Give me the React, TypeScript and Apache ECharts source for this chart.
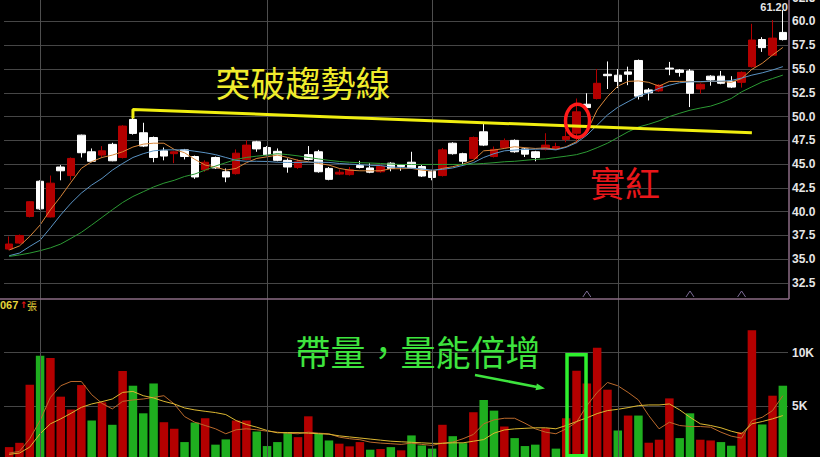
import React, { useEffect, useRef } from 'react';
import * as echarts from 'echarts';

// [open, close, low, high]
const candles: number[][] = [
  [36.07, 36.6, 35.95, 37.4], [36.7, 37.5, 36.6, 37.6], [39.5, 41.05, 39.4, 41.1], [43.2, 40.3, 40.2, 43.3],
  [39.45, 43.0, 39.4, 43.8], [44.7, 44.3, 43.3, 44.9], [43.8, 45.6, 43.3, 45.7], [48.05, 46.2, 45.7, 48.1],
  [46.3, 45.3, 45.2, 46.65], [45.95, 46.4, 45.75, 46.9], [47.08, 45.35, 45.3, 47.25], [45.7, 49.0, 45.6, 49.1],
  [49.7, 48.23, 48.1, 50.75], [48.3, 46.9, 46.8, 49.35], [47.8, 45.7, 45.2, 47.9], [46.4, 45.85, 45.4, 46.75],
  [46.1, 46.3, 45.1, 46.4], [46.5, 45.8, 45.5, 46.6], [45.8, 43.65, 43.45, 45.9], [44.4, 45.2, 44.2, 45.4],
  [45.7, 44.6, 44.5, 45.8], [44.2, 43.65, 43.1, 44.55], [44.0, 46.15, 43.9, 46.55], [45.5, 47.0, 45.4, 47.5],
  [47.35, 46.6, 46.3, 47.45], [46.75, 46.0, 45.9, 46.9], [46.35, 45.4, 45.3, 46.65], [45.4, 44.7, 44.1, 45.6],
  [44.65, 45.25, 44.5, 45.5], [46.0, 45.5, 45.4, 46.9], [46.3, 44.2, 44.1, 46.5], [44.55, 43.4, 43.3, 44.7],
  [43.95, 44.15, 43.85, 44.45], [43.9, 44.4, 43.8, 44.7], [44.85, 44.65, 44.55, 45.35], [44.6, 44.15, 44.05, 45.1],
  [44.2, 44.75, 44.1, 44.85], [45.1, 44.55, 44.25, 45.2], [44.9, 44.75, 44.3, 45.0], [45.2, 44.6, 44.5, 46.3],
  [44.75, 43.75, 43.65, 44.9], [44.25, 43.6, 43.3, 44.4], [43.8, 46.5, 43.7, 46.7], [47.2, 46.1, 46.0, 47.3],
  [46.1, 45.3, 44.9, 46.2], [45.6, 47.8, 45.5, 47.9], [48.4, 47.0, 46.9, 49.35], [45.8, 46.55, 45.7, 46.85],
  [46.75, 47.45, 46.65, 47.7], [47.5, 46.3, 46.2, 47.6], [46.6, 46.05, 45.75, 46.7], [46.3, 45.7, 45.3, 46.4],
  [46.55, 47.0, 46.45, 48.25], [46.6, 46.85, 46.5, 47.25], [47.6, 47.9, 47.3, 48.6], [48.25, 50.5, 47.2, 51.9],
  [51.3, 50.95, 50.7, 52.45], [51.9, 53.5, 51.8, 55.0], [54.45, 54.3, 52.9, 55.8], [54.35, 53.7, 53.0, 55.0],
  [54.7, 54.45, 53.3, 55.25], [55.9, 52.15, 51.8, 56.0], [52.8, 52.5, 51.7, 53.0], [52.7, 53.3, 52.6, 53.4],
  [55.1, 55.0, 54.35, 55.75], [54.9, 54.65, 54.2, 55.0], [54.8, 52.45, 51.0, 55.0], [52.9, 53.4, 52.4, 53.5],
  [54.25, 53.85, 53.25, 54.35], [54.25, 53.5, 53.4, 54.8], [53.7, 53.1, 53.0, 54.25], [53.6, 54.65, 53.05, 54.75],
  [55.25, 58.05, 55.15, 59.75], [58.1, 57.25, 56.8, 58.35], [56.45, 58.25, 56.35, 60.15], [58.85, 58.1, 58.0, 61.2],
];

const maFast = [
  35.97, 36.4, 37.4, 38.6, 40.2, 41.6, 43.1, 44.56, 45.26, 45.7, 45.95, 46.3, 46.8, 47.1, 47.2, 47.2,
  46.55, 46.2, 45.5, 44.9, 44.7, 44.37, 44.55, 45.15, 45.6, 45.77, 45.95, 45.7, 45.4, 45.25, 45.07, 44.9,
  44.55, 44.37, 44.3, 44.3, 44.3, 44.52, 44.52, 44.55, 44.37, 44.27, 44.55, 44.73, 45.0, 45.4, 46.4, 46.48,
  46.65, 46.83, 46.73, 46.65, 46.7, 46.56, 46.83, 47.36, 48.4, 50.7, 52.1, 53.2, 53.7, 53.75, 53.6, 53.2,
  53.7, 53.7, 53.7, 53.65, 53.7, 53.7, 53.6, 54.0, 54.97, 55.6, 56.47, 57.27,
];
const maMid = [
  35.37, 35.65, 36.35, 37.0, 38.3, 39.67, 40.9, 41.96, 42.8, 43.5, 44.37, 45.07, 45.7, 46.1, 46.4, 46.5,
  46.5, 46.5, 46.36, 46.2, 46.0, 45.7, 45.4, 45.3, 45.3, 45.28, 45.2, 45.18, 45.18, 45.2, 45.2, 45.18,
  45.07, 45.0, 44.95, 44.87, 44.85, 44.7, 44.65, 44.57, 44.5, 44.37, 44.45, 44.6, 44.87, 45.15, 45.7, 46.1,
  46.4, 46.48, 46.55, 46.57, 46.6, 46.5, 46.77, 47.25, 48.05, 49.1, 50.17, 50.98, 51.57, 52.15, 52.5, 52.97,
  53.3, 53.56, 53.65, 53.68, 53.72, 53.72, 53.8, 54.05, 54.36, 54.6, 54.9, 55.25,
];
const maSlow = [
  35.3, 35.45, 35.65, 35.9, 36.2, 36.6, 37.2, 37.83, 38.6, 39.4, 40.2, 40.97, 41.6, 42.1, 42.6, 43.0,
  43.3, 43.7, 43.96, 44.37, 44.8, 45.15, 45.5, 45.7, 45.84, 45.95, 46.1, 46.0, 45.87, 45.7, 45.55, 45.4,
  45.28, 45.2, 45.15, 45.12, 45.07, 45.0, 44.97, 44.97, 44.97, 44.97, 44.97, 44.97, 44.97, 45.0, 45.07, 45.15,
  45.25, 45.3, 45.4, 45.5, 45.55, 45.7, 45.84, 46.0, 46.3, 46.73, 47.2, 47.8, 48.4, 48.9, 49.2, 49.55,
  50.0, 50.35, 50.67, 50.9, 51.1, 51.46, 51.9, 52.6, 53.13, 53.65, 54.0, 54.36,
];

const volumes = [
  1200, 1600, 7000, 9720, 9510, 5900, 4700, 6980, 3680, 5370, 3280, 8300, 6920, 4350, 7130, 3520,
  2910, 1670, 3490, 3890, 1430, 1920, 3680, 3680, 2660, 1300, 1670, 2590, 2130, 4070, 2450, 1820,
  1520, 1270, 1670, 960, 1020, 1200, 900, 2290, 1360, 1060, 3280, 2220, 1570, 4450, 5590, 4600,
  3120, 2040, 1300, 1430, 2960, 1060, 3890, 8310, 7130, 10460, 6550, 2750, 4140, 4140, 1610, 1890,
  5740, 2040, 4350, 1890, 1820, 1670, 1330, 2590, 12080, 3310, 5990, 6920,
];
const volMaFast = [
  648, 806, 1982, 3676, 5834, 6917, 7315, 7315, 6084, 5278, 4760, 5463, 5593, 5686, 5834, 5991,
  5223, 4047, 3519, 3213, 2908, 2445, 2815, 2908, 2815, 2685, 2593, 2500, 2445, 2593, 2500, 2445,
  2130, 1982, 1889, 1667, 1574, 1519, 1454, 1574, 1454, 1361, 1574, 1667, 1982, 2380, 3371, 3741,
  3889, 3889, 3426, 2908, 2593, 2445, 2908, 3519, 5065, 6297, 7223, 6917, 6297, 5593, 4139, 2908,
  3519, 3213, 3121, 3121, 3056, 2593, 2222, 2037, 3676, 3982, 4602, 5991,
];
const volMaSlow = [
  528, 648, 1204, 2445, 3371, 3834, 4352, 4908, 5223, 5436, 5686, 6297, 6389, 5991, 5778, 5463,
  5223, 4852, 4667, 4537, 4417, 4232, 3676, 3306, 3056, 2750, 2537, 2550, 2550, 2500, 2450, 2400,
  2250, 2150, 2050, 1950, 1850, 1750, 1700, 1650, 1600, 1550, 1550, 1600, 1600, 1750, 1900, 2500,
  2800, 2900, 2950, 3000, 3000, 2908, 3213, 3584, 3926, 4324, 4602, 4723, 4880, 5065, 5130, 5130,
  5223, 4667, 3982, 3371, 3213, 3000, 2685, 2445, 3371, 3584, 3834, 4139,
];

const monthStarts = [3, 25, 41, 59];
const trendLine = [[12, 49.8], [12, 50.75], [72, 48.3]];
const markerDays = [56, 66, 71];
const breakoutDay = 55;
const breakoutMid = 49.55;
const breakoutVolTop = 9800;
const breakoutVolBottom = 400;
const lastHighLabel = '61.20';

const RED = '#b40000';
const GREEN_VOL = '#1fae1f';

export default function App() {
  const ref = useRef<HTMLDivElement>(null);
  useEffect(() => {
    const chart = echarts.init(ref.current!, null, { renderer: 'svg' });
    const cats = candles.map((_, i) => String(i));
    const closes = candles.map((c) => c[1]);
    const volData = volumes.map((v, i) => ({
      value: v,
      itemStyle: { color: i === 0 || closes[i] >= closes[i - 1] ? RED : GREEN_VOL },
    }));
    const vLines = {
      silent: true,
      symbol: ['none', 'none'],
      label: { show: false },
      lineStyle: { color: '#4e4e4e', type: 'solid', width: 1 },
      data: monthStarts.map((i) => ({ xAxis: cats[i] })),
    };
    const lineStyleOf = (color: string, width = 1) => ({
      type: 'line',
      symbol: 'none',
      lineStyle: { color, width },
      itemStyle: { color },
      silent: true,
    });
    chart.setOption({
      animation: false,
      backgroundColor: '#000000',
      grid: [
        { left: 4, width: 784, top: -2.3, height: 309.1, outerBoundsMode: 'none', containLabel: false },
        { left: 4, width: 784, top: 299, height: 161, outerBoundsMode: 'none', containLabel: false },
      ],
      xAxis: [0, 1].map((g) => ({
        type: 'category',
        gridIndex: g,
        data: cats,
        boundaryGap: true,
        axisLine: { show: false },
        axisTick: { show: false },
        axisLabel: { show: false },
        splitLine: { show: false },
      })),
      yAxis: [
        {
          type: 'value',
          gridIndex: 0,
          position: 'right',
          min: 30,
          max: 62.5,
          interval: 2.5,
          axisLine: { show: false },
          axisTick: { show: false },
          axisLabel: {
            color: '#e6e6e6',
            fontSize: 12,
            fontWeight: 'bold',
            fontFamily: 'Liberation Sans',
            margin: 4,
            showMinLabel: false,
            formatter: (v: number) => v.toFixed(1),
          },
          splitLine: { show: true, showMinLine: false, lineStyle: { color: '#464646', width: 1 } },
        },
        {
          type: 'value',
          gridIndex: 1,
          position: 'right',
          min: 0,
          max: 15000,
          interval: 5000,
          axisLine: { show: false },
          axisTick: { show: false },
          axisLabel: {
            color: '#e6e6e6',
            fontSize: 12,
            fontWeight: 'bold',
            fontFamily: 'Liberation Sans',
            margin: 4,
            showMinLabel: false,
            showMaxLabel: false,
            formatter: (v: number) => (v === 0 || v === 15000 ? '' : v / 1000 + 'K'),
          },
          splitLine: { show: true, showMaxLine: false, showMinLine: false, lineStyle: { color: '#464646', width: 1 } },
        },
      ],
      series: [
        {
          type: 'candlestick',
          xAxisIndex: 0,
          yAxisIndex: 0,
          data: candles,
          barWidth: 8,
          silent: true,
          itemStyle: {
            color: RED,
            color0: '#ffffff',
            borderColor: RED,
            borderColor0: '#ffffff',
            borderWidth: 1,
          },
          markLine: vLines,
          z: 2,
        },
        { ...lineStyleOf('#d8863a'), xAxisIndex: 0, yAxisIndex: 0, data: maFast, z: 3 },
        { ...lineStyleOf('#5a93c4'), xAxisIndex: 0, yAxisIndex: 0, data: maMid, z: 3 },
        { ...lineStyleOf('#2c9a34'), xAxisIndex: 0, yAxisIndex: 0, data: maSlow, z: 3 },
        { ...lineStyleOf('#f0ee10', 3), xAxisIndex: 0, yAxisIndex: 0, data: trendLine, z: 5 },
        {
          type: 'bar',
          xAxisIndex: 1,
          yAxisIndex: 1,
          data: volData,
          barWidth: 8.5,
          silent: true,
          markLine: vLines,
          z: 2,
        },
        { ...lineStyleOf('#bb6a2c'), xAxisIndex: 1, yAxisIndex: 1, data: volMaFast, z: 3 },
        { ...lineStyleOf('#dcb832'), xAxisIndex: 1, yAxisIndex: 1, data: volMaSlow, z: 3 },
      ],
    });

    const p0 = (x: number, y: number) => chart.convertToPixel({ gridIndex: 0 }, [x, y]) as number[];
    const p1 = (x: number, y: number) => chart.convertToPixel({ gridIndex: 1 }, [x, y]) as number[];
    const bo = p0(breakoutDay, breakoutMid);
    const vt = p1(breakoutDay, breakoutVolTop);
    const vb = p1(breakoutDay, breakoutVolBottom);
    const last = candles[candles.length - 1];
    const hi = p0(candles.length - 1, last[3]);
    const cjk = '"Noto Sans CJK TC", "Noto Sans CJK SC", sans-serif';

    const tip = [545, 388.5];
    const graphics: any[] = [
      { type: 'line', shape: { x1: 0, y1: 299, x2: 789, y2: 299 }, style: { stroke: '#8c6c86', lineWidth: 1.5 }, z: 10 },
      { type: 'line', shape: { x1: 789, y1: 0, x2: 789, y2: 299 }, style: { stroke: '#8c6c86', lineWidth: 1.5 }, z: 10 },
      ...markerDays.map((d) => {
        const x = p0(d, 40)[0];
        return {
          type: 'polyline',
          shape: { points: [[x - 4, 297], [x, 291], [x + 4, 297]] },
          style: { stroke: '#7c6c96', lineWidth: 1, fill: 'none' },
          z: 10,
        };
      }),
      {
        type: 'ellipse',
        shape: { cx: bo[0] + 1, cy: bo[1], rx: 12, ry: 16.5 },
        style: { stroke: '#ff1a1a', lineWidth: 3.5, fill: 'none' },
        z: 20,
      },
      {
        type: 'rect',
        shape: { x: vt[0] - 9.5, y: vt[1], width: 19, height: vb[1] - vt[1] },
        style: { stroke: '#2ef02e', lineWidth: 3.5, fill: 'none' },
        z: 20,
      },
      {
        type: 'text',
        x: hi[0] + 5,
        y: Math.max(hi[1] - 5.5, 6.5),
        style: {
          text: lastHighLabel,
          fill: '#e6e6e6',
          font: 'bold 11px "Liberation Sans"',
          align: 'right',
          verticalAlign: 'middle',
        },
        z: 20,
      },
      {
        type: 'text',
        x: 303,
        y: 81,
        style: { text: '突破趨勢線', fill: '#f0ec2c', font: `35px ${cjk}`, align: 'center', verticalAlign: 'middle' },
        z: 20,
      },
      {
        type: 'text',
        x: 625,
        y: 181,
        style: { text: '實紅', fill: '#e8161a', font: `35px ${cjk}`, align: 'center', verticalAlign: 'middle' },
        z: 20,
      },
      {
        type: 'text',
        x: 418,
        y: 350,
        style: { text: '帶量，量能倍增', fill: '#3ee43e', font: `35px ${cjk}`, align: 'center', verticalAlign: 'middle' },
        z: 20,
      },
      {
        type: 'line',
        shape: { x1: 475, y1: 375, x2: 537, y2: 387 },
        style: { stroke: '#3ee43e', lineWidth: 2.5 },
        z: 20,
      },
      {
        type: 'polygon',
        shape: { points: [tip, [535.5, 390.2], [536.9, 383.4]] },
        style: { fill: '#3ee43e' },
        z: 20,
      },
      {
        type: 'text',
        x: 0,
        y: 305,
        style: { text: '067', fill: '#e6d43a', font: 'bold 11px "Liberation Sans"', verticalAlign: 'middle' },
        z: 20,
      },
      {
        type: 'text',
        x: 20,
        y: 305,
        style: { text: '↑', fill: '#e01414', font: 'bold 9px "DejaVu Sans"', verticalAlign: 'middle' },
        z: 20,
      },
      {
        type: 'text',
        x: 27,
        y: 305,
        style: { text: '張', fill: '#e6d43a', font: `10px ${cjk}`, verticalAlign: 'middle' },
        z: 20,
      },
    ];
    chart.setOption({ graphic: graphics });
    return () => chart.dispose();
  }, []);
  return (
    <div
      ref={ref}
      style={{ position: 'absolute', left: 0, top: 0, width: 820, height: 457, background: '#000000' }}
    />
  );
}
